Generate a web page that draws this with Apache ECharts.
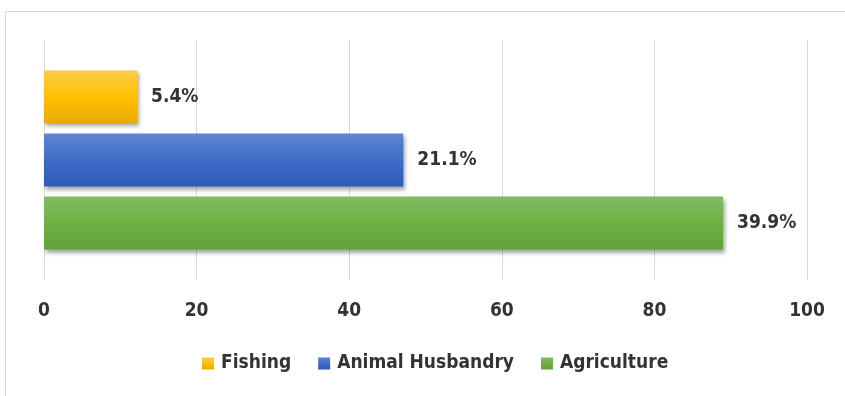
<!DOCTYPE html>
<html>
<head>
<meta charset="utf-8">
<script src="https://cdn.jsdelivr.net/npm/echarts@6/dist/echarts.min.js"></script>
<style>
    html, body { margin: 0; padding: 0; background: #fff; overflow: hidden; }
    .frame {
        position: absolute; left: 5px; top: 11px;
        width: 900px; height: 420px;
        border: 1px solid #d9d9d9;
    }
    #chart { position: absolute; left: 0; top: 0; width: 845px; height: 396px; }
</style>
</head>
<body>
<div class="frame"></div>
<div id="chart"></div>
<script>
    // series in top-to-bottom order
    const seriesNames = ['Fishing', 'Animal Husbandry', 'Agriculture']
    const seriesValues = [12.2, 47.1, 89.0]
    const seriesLabels = ['5.4%', '21.1%', '39.9%']
    const xTicks = [0, 20, 40, 60, 80, 100]

    const gradients = [
        ['#FFCB4C', '#FFC000', '#E6AA00'],
        ['#5F86D2', '#3F6CC8', '#2C5BB8'],
        ['#82BB64', '#6FB043', '#62A23A']
    ]

    const font = "'Liberation Sans Narrow', 'DejaVu Sans Condensed', sans-serif"

    const chart = echarts.init(document.getElementById('chart'))

    const series = seriesNames.map((name, i) => ({
        name,
        type: 'bar',
        data: [seriesValues[i]],
        barWidth: 53,
        barGap: '19%',
        itemStyle: {
            color: new echarts.graphic.LinearGradient(0, 0, 0, 1, [
                { offset: 0, color: gradients[i][0] },
                { offset: 0.5, color: gradients[i][1] },
                { offset: 1, color: gradients[i][2] }
            ]),
            shadowColor: 'rgba(0,0,0,0.35)',
            shadowBlur: 4,
            shadowOffsetX: 2,
            shadowOffsetY: 3
        },
        label: {
            show: true,
            position: 'right',
            distance: 14,
            formatter: () => seriesLabels[i],
            color: '#333',
            fontWeight: 'bold',
            fontSize: 19,
            fontFamily: font
        }
    }))

    chart.setOption({
        animation: false,
        grid: { left: 44, right: 38, top: 40, bottom: 116 },
        legend: {
            data: seriesNames,
            bottom: 18,
            left: 197,
            icon: 'rect',
            itemWidth: 12,
            itemHeight: 12,
            itemGap: 27,
            textStyle: {
                color: '#333', fontWeight: 'bold', fontSize: 19, fontFamily: font,
                padding: [0, 0, 0, 2]
            }
        },
        xAxis: {
            type: 'value',
            min: xTicks[0],
            max: xTicks[xTicks.length - 1],
            interval: xTicks[1] - xTicks[0],
            axisLine: { show: false },
            axisTick: { show: false },
            splitLine: { lineStyle: { color: '#d9d9d9', width: 1 } },
            axisLabel: { color: '#333', fontWeight: 'bold', fontSize: 19, fontFamily: font, margin: 22 }
        },
        yAxis: {
            type: 'category',
            data: [''],
            inverse: true,
            axisLine: { show: false },
            axisTick: { show: false },
            axisLabel: { show: false }
        },
        series
    })
</script>
</body>
</html>
